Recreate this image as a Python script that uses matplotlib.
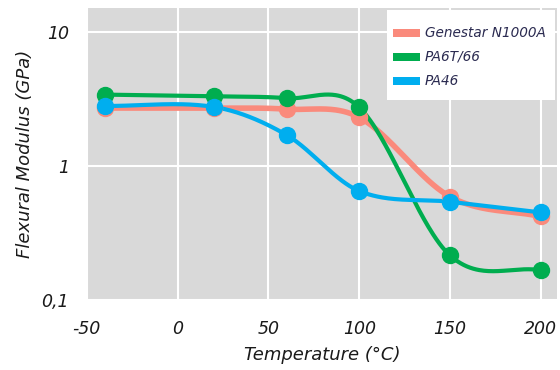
import numpy as np
import matplotlib
matplotlib.use("Agg")
import matplotlib.pyplot as plt
from matplotlib.patches import Rectangle

plt.rcParams["axes.unicode_minus"] = False

temps = [-40, 20, 60, 100, 150, 200]
genestar = [2.7, 2.7, 2.65, 2.3, 0.59, 0.42]
pa6t66 = [3.4, 3.3, 3.2, 2.73, 0.215, 0.167]
pa46 = [2.8, 2.75, 1.7, 0.65, 0.54, 0.45]
series_names = ["Genestar N1000A", "PA6T/66", "PA46"]
colors = ["#FA8A7C", "#00AD4F", "#00AEEF"]
x_ticks = [-50, 0, 50, 100, 150, 200]
y_ticks = [0.1, 1, 10]
y_ticklabels = ["0,1", "1", "10"]

W, H = 560, 370


def cardinal_spline(x, y, n=60):
    x = np.asarray(x, float)
    y = np.asarray(y, float)
    k = len(x)
    m = np.zeros(k)
    m[0] = (y[1] - y[0]) / (x[1] - x[0])
    m[-1] = (y[-1] - y[-2]) / (x[-1] - x[-2])
    for i in range(1, k - 1):
        m[i] = (y[i + 1] - y[i - 1]) / (x[i + 1] - x[i - 1])
    xs_all, ys_all = [], []
    for i in range(k - 1):
        h = x[i + 1] - x[i]
        t = np.linspace(0, 1, n)
        h00 = 2 * t ** 3 - 3 * t ** 2 + 1
        h10 = t ** 3 - 2 * t ** 2 + t
        h01 = -2 * t ** 3 + 3 * t ** 2
        h11 = t ** 3 - t ** 2
        ys = h00 * y[i] + h10 * h * m[i] + h01 * y[i + 1] + h11 * h * m[i + 1]
        xs_all.append(x[i] + t * h)
        ys_all.append(ys)
    return np.concatenate(xs_all), np.concatenate(ys_all)


fig = plt.figure(figsize=(W / 100, H / 100), dpi=100)
ax = fig.add_axes([0.155, 0.189, 0.84, 0.789])
ax.set_facecolor("#D9D9D9")
ax.set_yscale("log")
ax.set_xlim(-50, 209)
ax.set_ylim(0.1, 15)

text_color = "#1A1A1A"
data = [genestar, pa6t66, pa46]
lws = [4, 3, 3]
for vals, c, lw, z in zip(data, colors, lws, [3, 4, 5]):
    xs, ys = cardinal_spline(temps, np.log10(vals))
    ax.plot(xs, 10 ** ys, color=c, lw=lw, zorder=z, solid_capstyle="round")
for vals, c, z in zip(data, colors, [6, 7, 8]):
    ax.plot(temps, vals, "o", color=c, ms=11.5, zorder=z)

ax.set_xticks(x_ticks)
ax.set_yticks(y_ticks)
ax.set_yticklabels(y_ticklabels)
ax.yaxis.set_minor_locator(matplotlib.ticker.NullLocator())
ax.grid(True, color="white", lw=1.5)
ax.set_axisbelow(True)
for s in ax.spines.values():
    s.set_visible(False)
ax.tick_params(length=0, labelsize=12.5, labelcolor=text_color)
ax.tick_params(axis="y", pad=13)
ax.tick_params(axis="x", pad=14)
for lab in ax.get_xticklabels() + ax.get_yticklabels():
    lab.set_fontstyle("italic")

ax.set_xlabel("Temperature (°C)", fontsize=13, fontstyle="italic", color=text_color, labelpad=6)
ax.set_ylabel("Flexural Modulus (GPa)", fontsize=13, fontstyle="italic", color=text_color, labelpad=5)

# custom legend box (pixel layout, top-left origin)
def fx(px):
    return px / W


def fy(py):
    return 1 - py / H


fig.patches.append(Rectangle((fx(387), fy(100)), fx(555) - fx(387), fy(10) - fy(100),
                             transform=fig.transFigure, facecolor="white", edgecolor="none",
                             zorder=20))
for i, (name, c) in enumerate(zip(series_names, colors)):
    yc = 33 + 24 * i
    fig.patches.append(Rectangle((fx(393), fy(yc + 4)), fx(420) - fx(393), fy(yc - 4) - fy(yc + 4),
                                 transform=fig.transFigure, facecolor=c, edgecolor="none",
                                 zorder=21))
    fig.text(fx(425), fy(yc), name, fontsize=9.8, fontstyle="italic", color="#2A2A50",
             va="center", ha="left", zorder=22)

fig.savefig("out.png", dpi=100)
